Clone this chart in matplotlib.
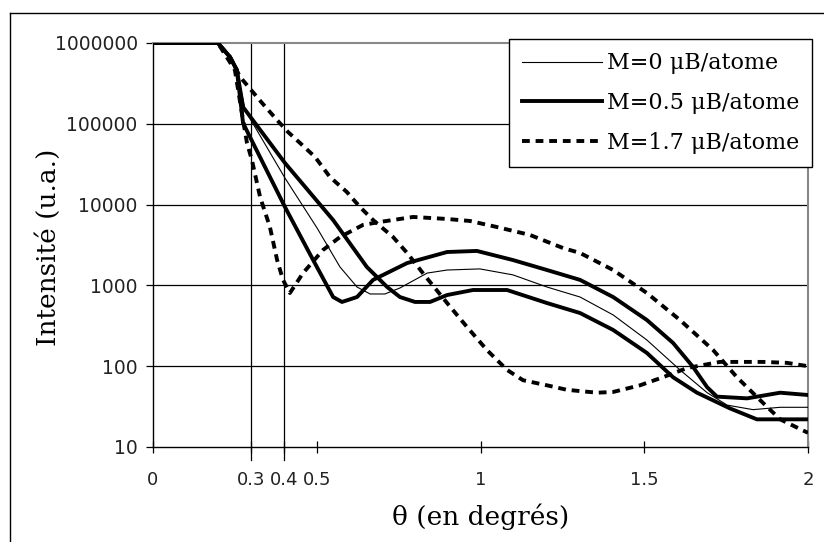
import matplotlib
matplotlib.use("Agg")
import matplotlib.pyplot as plt
from matplotlib.lines import Line2D

# ---- data ----
theta_m0 = [0, 0.198, 0.229, 0.260, 0.281, 0.403, 0.501, 0.571, 0.623, 0.663, 0.708, 0.754,
            0.837, 0.898, 0.998, 1.099, 1.203, 1.304, 1.405, 1.508, 1.609, 1.692, 1.753,
            1.832, 1.915, 2.0]
int_m0 = [1e6, 1e6, 710000, 402000, 148000, 21300, 5130, 1690, 955, 783, 783, 929,
          1420, 1550, 1600, 1350, 955, 718, 431, 211, 90, 47, 33, 29, 31, 31]

theta_m05a = [0, 0.198, 0.235, 0.256, 0.275, 0.403, 0.489, 0.550, 0.577, 0.623, 0.672, 0.776,
              0.898, 0.989, 1.099, 1.203, 1.304, 1.405, 1.508, 1.588, 1.649, 1.692, 1.722,
              1.814, 1.915, 2.0]
int_m05a = [1e6, 1e6, 671000, 463000, 102000, 9330, 2060, 718, 624, 718, 1170, 1890,
            2590, 2670, 2060, 1550, 1170, 718, 373, 194, 98, 55, 42, 40, 47, 44]

theta_m05b = [0, 0.198, 0.235, 0.256, 0.275, 0.403, 0.550, 0.653, 0.715, 0.754, 0.800, 0.846,
              0.898, 0.977, 1.081, 1.203, 1.304, 1.405, 1.508, 1.588, 1.661, 1.762, 1.844,
              1.915, 2.0]
int_m05b = [1e6, 1e6, 671000, 463000, 161000, 32700, 6440, 1690, 955, 718, 624, 624,
            760, 877, 877, 605, 455, 281, 146, 73, 47, 30, 22, 22, 22]

theta_m17a = [0, 0.198, 0.250, 0.275, 0.287, 0.302, 0.327, 0.357, 0.379, 0.397, 0.418, 0.458,
              0.519, 0.571, 0.641, 0.693, 0.794, 0.898, 0.968, 1.050, 1.151, 1.252, 1.304,
              1.405, 1.508, 1.609, 1.710, 1.783, 1.863, 1.915, 1.985, 2.0]
int_m17a = [1e6, 1e6, 463000, 111000, 57800, 35600, 12400, 5280, 2060, 1170, 805, 1420,
            2740, 3970, 5600, 6100, 7030, 6640, 6270, 5280, 4210, 2900, 2520,
            1550, 805, 373, 159, 73, 35, 22, 16, 15]

theta_m17b = [0, 0.198, 0.235, 0.266, 0.333, 0.379, 0.412, 0.449, 0.495, 0.540, 0.592, 0.632,
              0.672, 0.733, 0.776, 0.824, 0.898, 0.959, 1.020, 1.081, 1.130, 1.203, 1.264,
              1.356, 1.405, 1.487, 1.557, 1.631, 1.731, 1.863, 1.936, 2.0]
int_m17b = [1e6, 1e6, 671000, 380000, 181000, 111000, 79300, 57800, 38800, 22000, 14300, 9330,
            6440, 3970, 2520, 1420, 605, 305, 158, 90, 67, 58, 51,
            47, 48, 58, 73, 95, 113, 113, 110, 100]

legend_labels = ["M=0 \u03bcB/atome", "M=0.5 \u03bcB/atome", "M=1.7 \u03bcB/atome"]
xticks = [0, 0.3, 0.4, 0.5, 1, 1.5, 2]
xticklabels = ["0", "0.3", "0.4", "0.5", "1", "1.5", "2"]
yticks = [10, 100, 1000, 10000, 100000, 1000000]
yticklabels = ["10", "100", "1000", "10000", "100000", "1000000"]
vlines = [0.3, 0.4]

# ---- figure ----
fig = plt.figure(figsize=(8.24, 5.42), dpi=100)
ax = fig.add_axes([153/824, 1 - 447/542, (808-153)/824, (447-43)/542])

# outer frame (left and top edges visible)
fig.add_artist(Line2D([9.5/824, 9.5/824], [0, 1 - 13/542], color="black", lw=1,
                      transform=fig.transFigure))
fig.add_artist(Line2D([9.5/824, 1], [1 - 13/542, 1 - 13/542], color="black", lw=1,
                      transform=fig.transFigure))

ax.set_yscale("log")
ax.set_xlim(0, 2)
ax.set_ylim(10, 1e6)

for yv in yticks[1:-1]:
    ax.axhline(yv, color="black", lw=0.9, zorder=1)
for xv in vlines:
    ax.axvline(xv, color="black", lw=0.9, zorder=1)
    ax.plot([xv, xv], [-0.032, 0], transform=ax.get_xaxis_transform(), color="black",
            lw=0.9, clip_on=False)

dash = (2.0, 1.5)
ax.plot(theta_m0, int_m0, color="black", lw=0.8, zorder=3)
ax.plot(theta_m05a, int_m05a, color="black", lw=2.8, zorder=3)
ax.plot(theta_m05b, int_m05b, color="black", lw=2.8, zorder=3)
ax.plot(theta_m17a, int_m17a, color="black", lw=2.8, dashes=dash, zorder=3)
ax.plot(theta_m17b, int_m17b, color="black", lw=2.8, dashes=dash, zorder=3)

ax.minorticks_off()
ax.set_yticks(yticks)
ax.set_yticklabels(yticklabels)
ax.set_xticks(xticks)
ax.set_xticklabels(xticklabels)
ax.tick_params(axis="y", direction="out", length=5, width=0.9, labelsize=13.5, pad=6,
               colors="black")
ax.tick_params(axis="x", direction="inout", length=9, width=0.9, labelsize=13, pad=13)
for lab in ax.get_yticklabels() + ax.get_xticklabels():
    lab.set_color("#222222")

for s in ["top", "right"]:
    ax.spines[s].set_color("#888888")
    ax.spines[s].set_linewidth(1.5)
ax.spines["left"].set_color("black")
ax.spines["bottom"].set_color("black")
ax.spines["left"].set_linewidth(1.0)
ax.spines["bottom"].set_linewidth(1.0)

ax.set_ylabel("Intensit\u00e9 (u.a.)", family="DejaVu Serif", fontsize=19)
ax.yaxis.set_label_coords(-0.14, 0.495)
ax.set_xlabel("\u03b8 (en degr\u00e9s)", family="DejaVu Serif", fontsize=19)
ax.xaxis.set_label_coords(0.5, -0.14)

handles = [Line2D([], [], color="black", lw=0.8),
           Line2D([], [], color="black", lw=2.8),
           Line2D([], [], color="black", lw=2.8, dashes=dash)]
leg = fig.legend(handles, legend_labels, loc="upper left",
                 bbox_to_anchor=(509/824, 1 - 39/542),
                 prop={"family": "DejaVu Serif", "size": 16},
                 frameon=True, fancybox=False, shadow=False, framealpha=1,
                 edgecolor="black", handlelength=3.6, handletextpad=0.2,
                 labelspacing=0.8, borderpad=0.6, borderaxespad=0)
leg.get_frame().set_linewidth(1.0)

fig.savefig("out.png", dpi=100)
